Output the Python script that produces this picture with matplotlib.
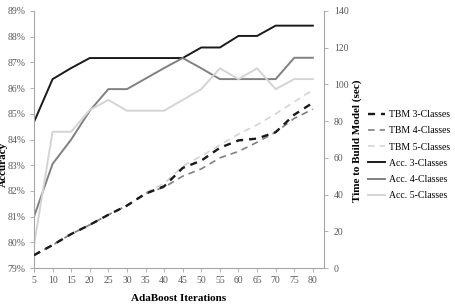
import matplotlib
matplotlib.use("Agg")
import matplotlib.pyplot as plt
from matplotlib.ticker import FuncFormatter

plt.rcParams['font.family'] = ['Liberation Serif', 'DejaVu Serif']

iterations = [5, 10, 15, 20, 25, 30, 35, 40, 45, 50, 55, 60, 65, 70, 75, 80]

# accuracy (%)
acc3 = [84.68, 86.35, 86.78, 87.17, 87.17, 87.17, 87.17, 87.17, 87.17, 87.58, 87.58, 88.03, 88.03, 88.43, 88.43, 88.43]
acc4 = [81.0, 83.05, 84.0, 85.12, 85.96, 85.96, 86.37, 86.78, 87.17, 86.77, 86.35, 86.35, 86.35, 86.35, 87.18, 87.18]
acc5 = [79.9, 84.3, 84.3, 85.15, 85.54, 85.12, 85.12, 85.12, 85.54, 85.96, 86.77, 86.35, 86.77, 85.96, 86.35, 86.35]

# time to build model (sec)
tbm3 = [7.0, 12.5, 18.5, 23.5, 29.0, 34.0, 40.5, 44.5, 54.5, 58.5, 65.5, 69.5, 70.5, 74.0, 83.5, 90.0]
tbm4 = [7.0, 12.5, 18.5, 23.5, 29.0, 34.0, 40.5, 44.0, 50.0, 54.0, 60.0, 63.5, 68.5, 74.0, 81.5, 86.5]
tbm5 = [7.0, 12.5, 18.5, 23.5, 29.0, 34.0, 41.0, 46.0, 55.5, 61.0, 67.0, 73.0, 78.0, 84.0, 90.5, 97.0]

c_dark = '#1a1a1a'
c_mid = '#808080'
c_light = '#d4d4d4'
spine_c = '#a6a6a6'
tick_c = '#595959'

fig = plt.figure(figsize=(4.56, 3.04), dpi=100)
ax = fig.add_axes([34/456, 1 - 268/304, 290/456, 257/304])
ax2 = ax.twinx()

l4, = ax.plot(iterations, acc3, color=c_dark, lw=1.4, label='Acc. 3-Classes')
l5, = ax.plot(iterations, acc4, color=c_mid, lw=1.4, label='Acc. 4-Classes')
l6, = ax.plot(iterations, acc5, color=c_light, lw=1.4, label='Acc. 5-Classes')

l3, = ax2.plot(iterations, tbm5, color=c_light, lw=1.2, ls=(0, (4, 3)), label='TBM 5-Classes')
l2, = ax2.plot(iterations, tbm4, color=c_mid, lw=1.2, ls=(0, (4, 3)), label='TBM 4-Classes')
l1, = ax2.plot(iterations, tbm3, color=c_dark, lw=1.7, ls=(0, (3, 2.5)), label='TBM 3-Classes')

ax.set_xlim(5, 83)
ax.set_ylim(79, 89)
ax2.set_ylim(0, 140)
ax.set_xticks(iterations)
ax.set_yticks(range(79, 90))
ax2.set_yticks(range(0, 141, 20))
ax.yaxis.set_major_formatter(FuncFormatter(lambda v, p: f'{v:.0f}%'))

for a in (ax, ax2):
    a.spines['top'].set_visible(False)
    for s in ('left', 'right', 'bottom'):
        a.spines[s].set_color(spine_c)
        a.spines[s].set_linewidth(0.8)
    a.tick_params(labelsize=7, colors=tick_c, length=3, width=0.6, pad=3)
ax.tick_params(axis='both', color=spine_c)
ax2.tick_params(axis='y', color=spine_c, pad=4)
ax.spines['right'].set_visible(False)
ax2.spines['left'].set_visible(False)
ax2.spines['bottom'].set_visible(False)

ax.set_xlabel('AdaBoost Iterations', fontsize=8, fontweight='bold', labelpad=6)
fig.text(0.008, 0.46, 'Accuracy', rotation=90, fontsize=8, fontweight='bold', ha='center', va='center')
fig.text(357/456, 1 - 141/304, 'Time to Build Model (sec)', rotation=90, fontsize=8,
         fontweight='bold', ha='center', va='center')

fig.legend(handles=[l1, l2, l3, l4, l5, l6], loc='upper left', bbox_to_anchor=(368/456, 1 - 110/304),
           frameon=False, fontsize=7, handlelength=1.8, handletextpad=0.4, labelspacing=0.75,
           borderaxespad=0, borderpad=0)

fig.savefig('out.png', dpi=100)
